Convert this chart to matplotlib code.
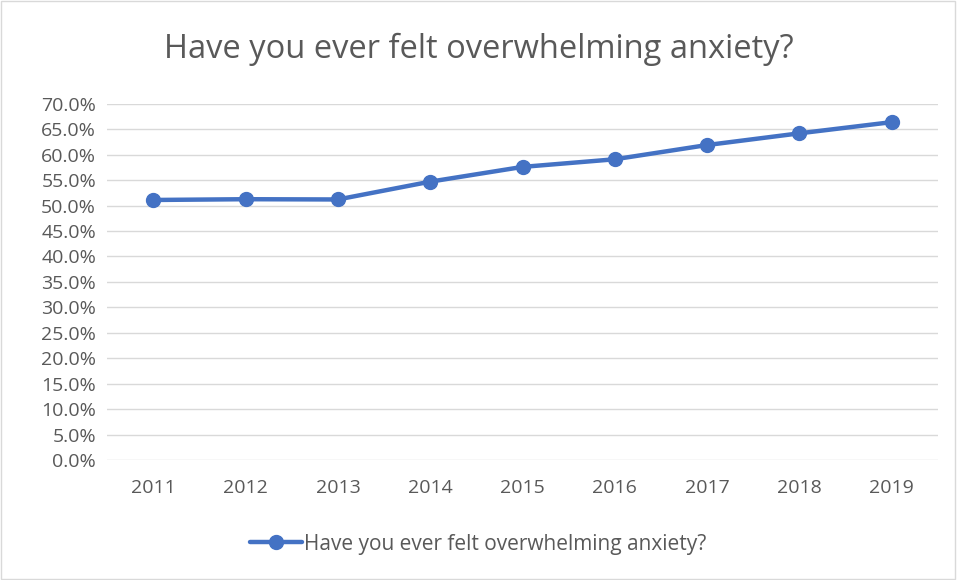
import matplotlib.pyplot as plt
from matplotlib.patches import Rectangle
from matplotlib.ticker import FuncFormatter, MultipleLocator

# data
years = ["2011", "2012", "2013", "2014", "2015", "2016", "2017", "2018", "2019"]
anxiety = [51.1, 51.25, 51.2, 54.7, 57.6, 59.1, 61.9, 64.2, 66.4]
series_name = "Have you ever felt overwhelming anxiety?"

plt.rcParams['font.family'] = ['Open Sans', 'DejaVu Sans']

fig = plt.figure(figsize=(9.57, 5.8), dpi=100)
ax = fig.add_axes([0.112, 0.207, 0.868, 0.614])

blue = "#4472C4"
grid = "#D9D9D9"
text = "#595959"

x = range(len(years))
ax.plot(x, anxiety, color=blue, linewidth=3.2, marker='o', markersize=10,
        label=series_name, solid_capstyle='round')

ax.set_xlim(-0.5, len(years) - 0.5)
ax.set_ylim(0, 70)
ax.yaxis.set_major_locator(MultipleLocator(5))
ax.yaxis.set_major_formatter(FuncFormatter(lambda v, p: f"{v:.1f}%"))
ax.set_xticks(list(x))
ax.set_xticklabels(years)

ax.grid(axis='y', color=grid, linewidth=1)
ax.set_axisbelow(True)
for s in ax.spines.values():
    s.set_visible(False)
ax.tick_params(axis='both', length=0, labelsize=14, colors=text)
ax.tick_params(axis='x', pad=14)
ax.tick_params(axis='y', pad=8)

fig.text(0.5, 0.915, series_name, ha='center', va='center', fontsize=23.5, color=text)

leg = fig.legend(loc='center', bbox_to_anchor=(0.5, 0.062), frameon=False,
                 fontsize=15, handlelength=2.5, handletextpad=0.1)
for t in leg.get_texts():
    t.set_color(text)

# chart border
fig.patches.append(Rectangle((0.001, 0.001), 0.997, 0.997, transform=fig.transFigure,
                             fill=False, edgecolor=grid, linewidth=1))

fig.savefig("out.png", dpi=100)
